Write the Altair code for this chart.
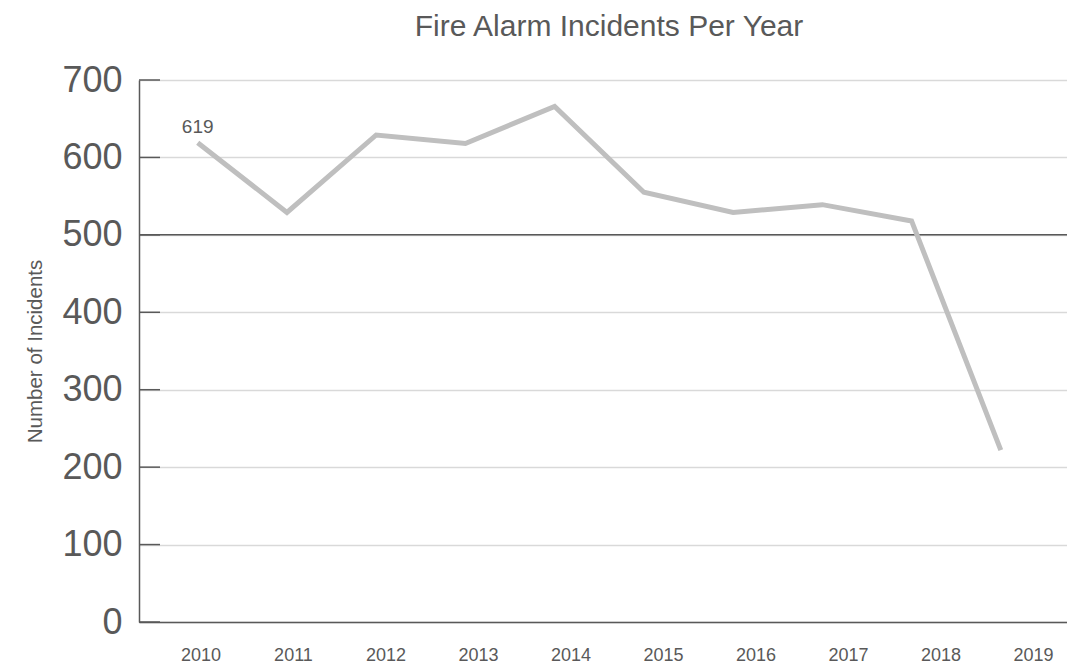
import altair as alt
import pandas as pd

# Yearly fire alarm incident counts
years = ["2010", "2011", "2012", "2013", "2014", "2015", "2016", "2017", "2018", "2019"]
incidents = [619, 529, 629, 618, 666, 555, 529, 539, 518, 222]

# Y axis tick values and the highlighted reference level
y_ticks = [0, 100, 200, 300, 400, 500, 600, 700]
reference_level = [500]
labeled_years = ["2010"]

FONT = "Liberation Sans"
TEXT = "#595959"

df = pd.DataFrame({"year": years, "incidents": incidents})
ticks_df = pd.DataFrame({"incidents": y_ticks})
ref_df = pd.DataFrame({"incidents": reference_level})
label_df = df[df["year"].isin(labeled_years)]

# The category axis and the plotted series use slightly different point spacings
axis_x_scale = alt.Scale(type="point", padding=0.516, align=0.644)
line_x_scale = alt.Scale(type="point", padding=0.70, align=0.47)
y_scale = alt.Scale(domain=[0, 700])

x_axis = alt.Axis(
    title=None, orient="bottom", labelAngle=0, labelFontSize=18, labelColor=TEXT,
    labelPadding=24, ticks=False, domainColor=TEXT, domainWidth=1.5, grid=False,
)
y_axis = alt.Axis(
    title="Number of Incidents", values=y_ticks, labelFontSize=36, labelColor=TEXT,
    labelPadding=17, ticks=False, domainColor=TEXT, domainWidth=1.5,
    gridColor="#d9d9d9", gridWidth=1.5, titleFontSize=20.5, titleFontWeight="normal",
    titleColor=TEXT, titlePadding=16,
)

y_enc = alt.Y("incidents:Q", scale=y_scale, axis=y_axis)
line_x = alt.X("year:O", scale=line_x_scale, axis=None, sort=years)

# Invisible marks that carry the year axis
year_axis = alt.Chart(df).mark_point(opacity=0).encode(
    x=alt.X("year:O", scale=axis_x_scale, axis=x_axis, sort=years),
    y=y_enc,
)

ref_rule = alt.Chart(ref_df).mark_rule(color=TEXT, strokeWidth=1.5).encode(
    y=y_enc,
)

inner_ticks = alt.Chart(ticks_df).mark_rule(color=TEXT, strokeWidth=1.5).encode(
    y=y_enc,
    x=alt.value(0),
    x2=alt.value(21),
)

line = alt.Chart(df).mark_line(color="#bfbfbf", strokeWidth=5).encode(
    x=line_x,
    y=y_enc,
)

value_label = alt.Chart(label_df).mark_text(
    fontSize=19, color=TEXT, baseline="alphabetic", dy=-10, font=FONT
).encode(
    x=line_x,
    y=y_enc,
    text=alt.Text("incidents:Q"),
)

series = alt.layer(line, value_label)

chart = alt.layer(year_axis, ref_rule, inner_ticks, series).resolve_scale(
    x="independent"
).properties(
    width=928,
    height=542,
    autosize=alt.AutoSizeParams(type="none"),
    padding={"left": 139, "top": 80, "right": 0, "bottom": 44},
    title=alt.Title(
        "Fire Alarm Incidents Per Year", fontSize=30, fontWeight="normal", color=TEXT,
        font=FONT, anchor="middle", frame="group", baseline="alphabetic", offset=0, dy=4, dx=6,
    ),
).configure(
    font=FONT,
).configure_view(
    stroke=None,
)

chart.save("out.html", embed_options={"renderer": "svg", "actions": False})
